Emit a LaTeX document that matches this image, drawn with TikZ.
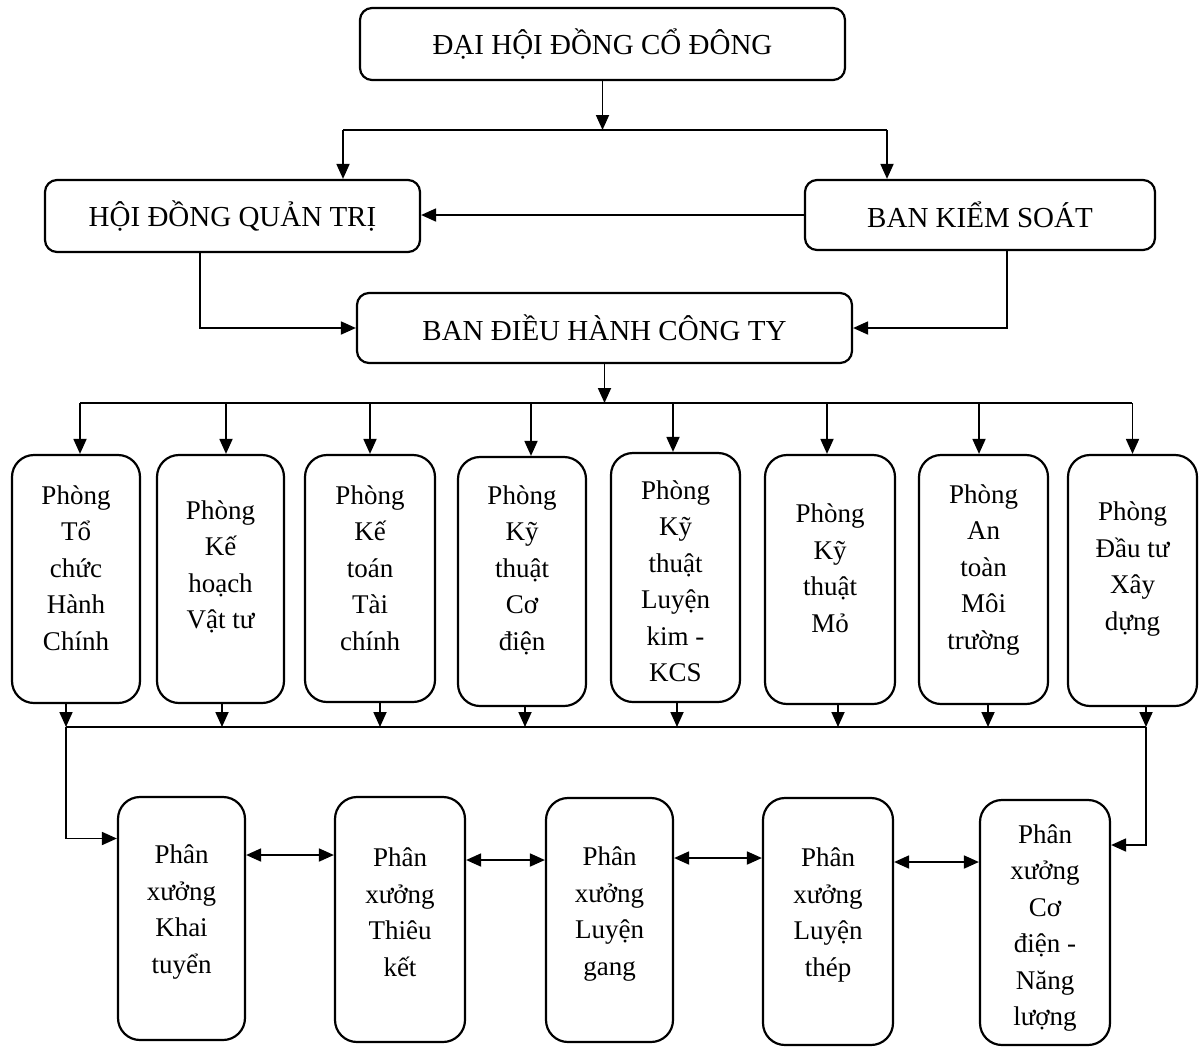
\documentclass[tikz,border=0pt]{standalone}
\usepackage{fontspec}
\setmainfont{Liberation Serif}
\usetikzlibrary{arrows.meta}
\begin{document}
\begin{tikzpicture}[x=1pt,y=-1pt,
  topbox/.style={draw,line width=2.2pt,rounded corners=12pt,inner sep=0pt,font=\fontsize{29}{34}\selectfont},
  pbox/.style={draw,line width=2.2pt,rounded corners=22pt,inner sep=0pt,minimum width=128pt},
  ptext/.style={align=center,inner sep=0pt,font=\fontsize{27}{36.5}\selectfont},
  conn/.style={line width=1.8pt},
  arr/.style={line width=1.8pt,-{Triangle[length=15pt,width=13pt]}},
  darr/.style={line width=1.8pt,{Triangle[length=15pt,width=13pt]}-{Triangle[length=15pt,width=13pt]}}
]
\fill[white] (0,0) rectangle (1199,1050);
\useasboundingbox (0,0) rectangle (1199,1050);

% top level
\node[topbox,minimum width=485pt,minimum height=72pt] (dh) at (602.5,44) {ĐẠI HỘI ĐỒNG CỔ ĐÔNG};
\node[topbox,minimum width=375pt,minimum height=72pt] (hd) at (232.5,216) {HỘI ĐỒNG QUẢN TRỊ};
\node[topbox,minimum width=350pt,minimum height=70pt] (bks) at (980,215) {BAN KIỂM SOÁT};
\node[topbox,minimum width=495pt,minimum height=70pt] (bdh) at (604.5,328) {BAN ĐIỀU HÀNH CÔNG TY};

\coordinate (hl) at (343,130);
\coordinate (hr) at (887,130);
\draw[arr] (dh.south) -- (dh.south |- hl);
\draw[conn] (hl) -- (hr);
\draw[arr] (hl) -- (hl |- hd.north);
\draw[arr] (hr) -- (hr |- bks.north);
\draw[arr] (bks.west) -- (bks.west -| hd.east);
\draw[arr] ([xshift=-32.5pt]hd.south) |- (bdh.west);
\draw[arr] ([xshift=27pt]bks.south) |- (bdh.east);

% phong boxes
\node[pbox,minimum height=248pt] (p1) at (76,579) {};
\node[pbox,minimum height=248pt,minimum width=127pt] (p2) at (220.5,579) {};
\node[pbox,minimum height=247pt,minimum width=130pt] (p3) at (370,578.5) {};
\node[pbox,minimum height=249pt] (p4) at (522,581.5) {};
\node[pbox,minimum height=249pt,minimum width=129pt] (p5) at (675.5,577.5) {};
\node[pbox,minimum height=249pt,minimum width=130pt] (p6) at (830,579.5) {};
\node[pbox,minimum height=249pt,minimum width=129pt] (p7) at (983.5,579.5) {};
\node[pbox,minimum height=251pt,minimum width=129pt] (p8) at (1132.5,580.5) {};

\node[ptext] (t1) at (76,568) {Phòng\\Tổ\\chức\\Hành\\Chính};
\node[ptext] (t2) at (220.5,567) {Phòng\\Kế\\hoạch\\Vật tư};
\node[ptext] (t3) at (370,568) {Phòng\\Kế\\toán\\Tài\\chính};
\node[ptext] (t4) at (522,570) {Phòng\\Kỹ\\thuật\\Cơ\\điện};
\node[ptext] (t5) at (675.5,581) {Phòng\\Kỹ\\thuật\\Luyện\\kim -\\KCS};
\node[ptext] (t6) at (830,568) {Phòng\\Kỹ\\thuật\\Mỏ};
\node[ptext] (t7) at (983.5,570) {Phòng\\An\\toàn\\Môi\\trường};
\node[ptext] (t8) at (1132.5,569) {Phòng\\Đầu tư\\Xây\\dựng};

\coordinate (btl) at (80,403);
\coordinate (btr) at (1132,403);
\draw[arr] (bdh.south) -- (bdh.south |- btl);
\draw[conn] (btl) -- (btr);
\draw[arr] ([xshift=4pt]p1.north |- btl) -- ([xshift=4pt]p1.north);
\draw[arr] ([xshift=5.5pt]p2.north |- btl) -- ([xshift=5.5pt]p2.north);
\draw[arr] (p3.north |- btl) -- (p3.north);
\draw[arr] ([xshift=9pt]p4.north |- btl) -- ([xshift=9pt]p4.north);
\draw[arr] ([xshift=-2.5pt]p5.north |- btl) -- ([xshift=-2.5pt]p5.north);
\draw[arr] ([xshift=-3pt]p6.north |- btl) -- ([xshift=-3pt]p6.north);
\draw[arr] ([xshift=-4.5pt]p7.north |- btl) -- ([xshift=-4.5pt]p7.north);
\draw[arr] (p8.north |- btl) -- (p8.north);

\coordinate (bbl) at (66,727);
\coordinate (bbr) at (1146,727);
\draw[conn] (bbl) -- (bbr);
\draw[arr] ([xshift=-10pt]p1.south) -- ([xshift=-10pt]p1.south |- bbl);
\draw[arr] ([xshift=1.5pt]p2.south) -- ([xshift=1.5pt]p2.south |- bbl);
\draw[arr] ([xshift=10pt]p3.south) -- ([xshift=10pt]p3.south |- bbl);
\draw[arr] ([xshift=3pt]p4.south) -- ([xshift=3pt]p4.south |- bbl);
\draw[arr] ([xshift=1.5pt]p5.south) -- ([xshift=1.5pt]p5.south |- bbl);
\draw[arr] ([xshift=8pt]p6.south) -- ([xshift=8pt]p6.south |- bbl);
\draw[arr] ([xshift=4.5pt]p7.south) -- ([xshift=4.5pt]p7.south |- bbl);
\draw[arr] ([xshift=13.5pt]p8.south) -- ([xshift=13.5pt]p8.south |- bbl);

% phan xuong
\node[pbox,minimum width=127pt,minimum height=243pt] (x1) at (181.5,918.5) {};
\node[pbox,minimum width=130pt,minimum height=245pt] (x2) at (400,919.5) {};
\node[pbox,minimum width=127pt,minimum height=244pt] (x3) at (609.5,920) {};
\node[pbox,minimum width=130pt,minimum height=247pt] (x4) at (828,921.5) {};
\node[pbox,minimum width=130pt,minimum height=245pt] (x5) at (1045,922.5) {};

\node[ptext] (s1) at (181.5,912) {Phân\\xưởng\\Khai\\tuyển};
\node[ptext] (s2) at (400,912) {Phân\\xưởng\\Thiêu\\kết};
\node[ptext] (s3) at (609.5,914) {Phân\\xưởng\\Luyện\\gang};
\node[ptext] (s4) at (828,915) {Phân\\xưởng\\Luyện\\thép};
\node[ptext] (s5) at (1045,928) {Phân\\xưởng\\Cơ\\điện -\\Năng\\lượng};

\draw[arr] (bbl) |- ([yshift=80pt]x1.west);
\draw[arr] (bbr) |- ([yshift=77.5pt]x5.east);
\draw[darr] ([yshift=63.5pt]x1.east) -- ([yshift=63.5pt]x1.east -| x2.west);
\draw[darr] ([yshift=59.5pt]x2.east) -- ([yshift=59.5pt]x2.east -| x3.west);
\draw[darr] ([yshift=62pt]x3.east) -- ([yshift=62pt]x3.east -| x4.west);
\draw[darr] ([yshift=59.5pt]x4.east) -- ([yshift=59.5pt]x4.east -| x5.west);
\end{tikzpicture}
\end{document}
